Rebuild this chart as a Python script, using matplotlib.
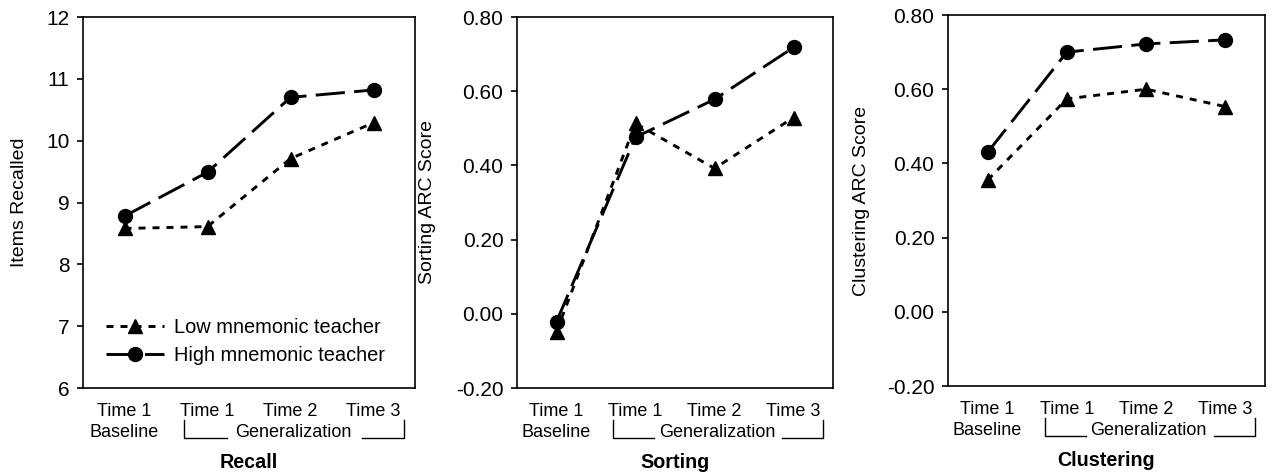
import matplotlib
matplotlib.use("Agg")
import matplotlib.pyplot as plt
import matplotlib.transforms as mtransforms

plt.rcParams['font.family'] = ['Liberation Sans', 'DejaVu Sans']

time_labels = ["Time 1", "Time 1", "Time 2", "Time 3"]
x_pos = [0, 1, 2, 3]

recall_low = [8.58, 8.61, 9.71, 10.29]
recall_high = [8.78, 9.49, 10.70, 10.82]

sorting_low = [-0.048, 0.513, 0.392, 0.529]
sorting_high = [-0.021, 0.476, 0.578, 0.718]

cluster_low = [0.355, 0.574, 0.600, 0.553]
cluster_high = [0.430, 0.700, 0.722, 0.733]

panel_titles = ["Recall", "Sorting", "Clustering"]
y_labels = ["Items Recalled", "Sorting ARC Score", "Clustering ARC Score"]
y_ticks = [[6, 7, 8, 9, 10, 11, 12],
           [-0.2, 0.0, 0.2, 0.4, 0.6, 0.8],
           [-0.2, 0.0, 0.2, 0.4, 0.6, 0.8]]
y_ticklabels = [["6", "7", "8", "9", "10", "11", "12"],
                ["-0.20", "0.00", "0.20", "0.40", "0.60", "0.80"],
                ["-0.20", "0.00", "0.20", "0.40", "0.60", "0.80"]]
series_low = [recall_low, sorting_low, cluster_low]
series_high = [recall_high, sorting_high, cluster_high]

W, H = 1272, 475
fig = plt.figure(figsize=(W / 100, H / 100), dpi=100)

boxes = [(83, 415, 17, 388), (517, 833, 17, 388), (948, 1265, 15, 386)]
ylabel_x_px = [20, 428, 862]

for i, (l, r, t, b) in enumerate(boxes):
    ax = fig.add_axes([l / W, (H - b) / H, (r - l) / W, (b - t) / H])
    ax.plot(x_pos, series_low[i], color='black', lw=2.1, dashes=(2.4, 2.4),
            marker='^', markersize=9.5, label="Low mnemonic teacher")
    ax.plot(x_pos, series_high[i], color='black', lw=2.1, dashes=(10, 3.2),
            marker='o', markersize=10, label="High mnemonic teacher")
    ax.set_xlim(-0.5, 3.5)
    yt = y_ticks[i]
    ax.set_ylim(yt[0], yt[-1])
    ax.set_yticks(yt)
    ax.set_yticklabels(y_ticklabels[i], fontsize=15)
    ax.set_xticks(x_pos)
    ax.set_xticklabels(time_labels, fontsize=13)
    ax.tick_params(axis='x', length=0, pad=10.5)
    ax.tick_params(axis='y', direction='out', length=4.3, width=1.2, pad=5.5)
    for sp in ax.spines.values():
        sp.set_linewidth(1.2)
    ax.set_ylabel(y_labels[i], fontsize=14)
    ax.yaxis.set_label_coords((ylabel_x_px[i] - l) / (r - l), 0.5)
    ax.yaxis.label.set_verticalalignment('center')

    trans = mtransforms.blended_transform_factory(ax.transData, ax.transAxes)
    ax.text(0, -0.1186, "Baseline", transform=trans, ha='center', va='center',
            fontsize=13)
    ax.text(2.03, -0.121, "Generalization", transform=trans, ha='center',
            va='center', fontsize=13)
    bkw = dict(transform=trans, color='black', lw=1.0, clip_on=False)
    ax.plot([0.72, 0.72, 1.24], [-0.086, -0.135, -0.135], **bkw)
    ax.plot([2.86, 3.37, 3.37], [-0.135, -0.135, -0.086], **bkw)
    ax.text(0.5, -0.202, panel_titles[i], transform=ax.transAxes, ha='center',
            va='center', fontsize=14.2, fontweight='bold')

    if i == 0:
        ax.legend(loc='lower left', bbox_to_anchor=(0.045, 0.04), frameon=False,
                  fontsize=14.4, handlelength=2.9, handletextpad=0.5,
                  labelspacing=0.45, borderaxespad=0)

fig.savefig("out.png", dpi=100)
